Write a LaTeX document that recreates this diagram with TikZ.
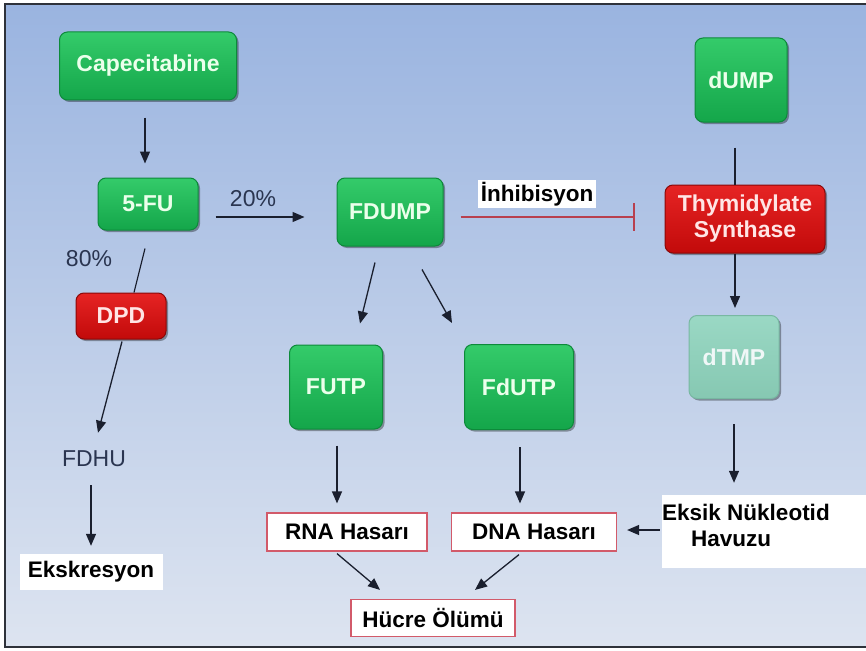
\documentclass[tikz,border=0pt]{standalone}
\usepackage{fontspec}
\setmainfont{Liberation Sans}
\usetikzlibrary{arrows.meta,calc,shadows}
\definecolor{bgtop}{HTML}{9AB4E0}
\definecolor{bgbot}{HTML}{DDE4F0}
\definecolor{frm}{HTML}{2E323A}
\definecolor{gtop}{HTML}{34CB6A}
\definecolor{gbot}{HTML}{14A64A}
\definecolor{gdraw}{HTML}{0D8A3A}
\definecolor{rtop}{HTML}{E62424}
\definecolor{rbot}{HTML}{C20A0A}
\definecolor{rdraw}{HTML}{8A0808}
\definecolor{ttop}{HTML}{9AD8C4}
\definecolor{tbot}{HTML}{86C8B2}
\definecolor{tdraw}{HTML}{78B8A2}
\definecolor{arrc}{HTML}{1A1F2E}
\definecolor{inhc}{HTML}{B8404E}
\definecolor{pinkb}{HTML}{D25A6A}
\definecolor{lbl}{HTML}{2A3550}
\tikzset{
  box/.style={rounded corners=8pt, inner sep=0pt, align=center,
    font=\bfseries\fontsize{23}{26}\selectfont,
    drop shadow={shadow xshift=2pt, shadow yshift=-2pt, opacity=0.35, fill=black}},
  gbox/.style={box, top color=gtop, bottom color=gbot, draw=gdraw, line width=1pt, text=white!92!green},
  rbox/.style={box, top color=rtop, bottom color=rbot, draw=rdraw, line width=1pt, text=white!90!red},
  tbox/.style={box, top color=ttop, bottom color=tbot, draw=tdraw, line width=1pt, text=white!94!teal},
  wlab/.style={fill=white, inner sep=0pt, font=\bfseries\fontsize{22.5}{26}\selectfont, text=black},
  pbox/.style={wlab, draw=pinkb, line width=1.2pt},
  plain/.style={font=\fontsize{23}{26}\selectfont, text=lbl, inner sep=0pt},
  arr/.style={draw=arrc, line width=1.3pt, -{Triangle[length=12pt,width=10pt]}},
  ln/.style={draw=arrc, line width=1.2pt},
  inh/.style={draw=inhc, line width=1.5pt, -{Bar[width=28pt,line width=1.5pt]}}
}
\begin{document}
\begin{tikzpicture}[x=1pt,y=-1pt]
\useasboundingbox (0,0) rectangle (866,650);
\fill[white] (0,0) rectangle (866,650);
\shade[top color=bgtop, bottom color=bgbot] (5,4) rectangle (866,647);
\draw[frm, line width=2pt] (866,4) -- (5,4) -- (5,647) -- (866,647);

% nodes
\node[gbox, minimum width=177pt, minimum height=68pt] (cap) at (148,66) {Capecitabine};
\node[gbox, minimum width=100pt, minimum height=52pt] (fu) at (148,204) {5-FU};
\node[gbox, minimum width=106pt, minimum height=68pt] (fdump) at (390,212) {FDUMP};
\node[rbox, minimum width=90pt, minimum height=46pt] (dpd) at (121,316) {DPD};
\node[gbox, minimum width=93pt, minimum height=84pt] (futp) at (336,387) {FUTP};
\node[gbox, minimum width=109pt, minimum height=85pt] (fdutp) at (519,387) {FdUTP};
\node[gbox, minimum width=92pt, minimum height=84pt] (dump) at (741,80) {dUMP};
\node[rbox, minimum width=160pt, minimum height=68pt] (ts) at (745,219) {Thymidylate\\[0pt]Synthase};
\node[tbox, minimum width=90pt, minimum height=83pt] (dtmp) at (734,357) {dTMP};

\node[plain] (p20) at (253,199) {20\%};
\node[plain] (p80) at (89,259) {80\%};
\node[plain] (fdhu) at (94,459) {FDHU};

\node[wlab, minimum width=118pt, minimum height=28pt] (inhl) at (537,194) {İnhibisyon};
\node[wlab, minimum width=143pt, minimum height=36pt] (eks) at (91,572) {Ekskresyon};
\node[fill=white, inner sep=0pt, minimum width=204pt, minimum height=73pt] (eksik) at (764,531.5) {};
\node[wlab, fill=none, anchor=west] (eksik1) at (662,512) {Eksik Nükleotid};
\node[wlab, fill=none, anchor=west] (eksik2) at (691,539) {Havuzu};

\node[pbox, minimum width=160pt, minimum height=38pt] (rna) at (347,532) {RNA Hasarı};
\node[pbox, minimum width=165pt, minimum height=38pt] (dna) at (534,532) {DNA Hasarı};
\node[pbox, minimum width=164pt, minimum height=37pt] (hucre) at (433,618) {Hücre Ölümü};

% connectors
\draw[arr] ($(cap.south)+(-3,17)$) -- ($(fu.north)+(-3,-14)$);
\draw[arr] ($(fu.east)+(17,13)$) -- ($(fdump.west)+(-32,5)$);
\draw[ln] ($(fu.south)+(-3,18)$) -- ($(dpd.north)+(13,0)$);
\draw[arr] ($(dpd.south)+(1,2)$) -- ($(fdhu.north)+(4,-18)$);
\draw[arr] ($(fdhu)+(-3,26)$) -- ($(eks.north)+(0,-8)$);
\draw[arr] ($(fdump.south)+(-15,16)$) -- ($(futp.north)+(24,-21)$);
\draw[arr] ($(fdump.south)+(32,23)$) -- ($(fdutp.north)+(-67,-21)$);
\draw[inh] ($(fdump.east)+(17,5)$) -- ($(ts.west)+(-30,-2)$);
\draw[ln] ($(dump.south)+(-6,25)$) -- ($(ts.north)+(-10,0)$);
\draw[arr] ($(ts.south)+(-10,0)$) -- ($(dtmp.north)+(1,-7)$);
\draw[arr] ($(dtmp.south)+(0,25)$) -- ($(eksik.north)+(-30,-12)$);
\draw[arr] ($(eksik.west)+(-2,-1.5)$) -- ($(dna.east)+(10,-2)$);
\draw[arr] ($(futp.south)+(1,16)$) -- ($(rna.north)+(-10,-9)$);
\draw[arr] ($(fdutp.south)+(1,17)$) -- ($(dna.north)+(-14,-9)$);
\draw[arr] ($(rna.south)+(-10,2)$) -- ($(hucre.north)+(-53,-9)$);
\draw[arr] ($(dna.south)+(-15,3)$) -- ($(hucre.north)+(42,-9)$);
\end{tikzpicture}
\end{document}
